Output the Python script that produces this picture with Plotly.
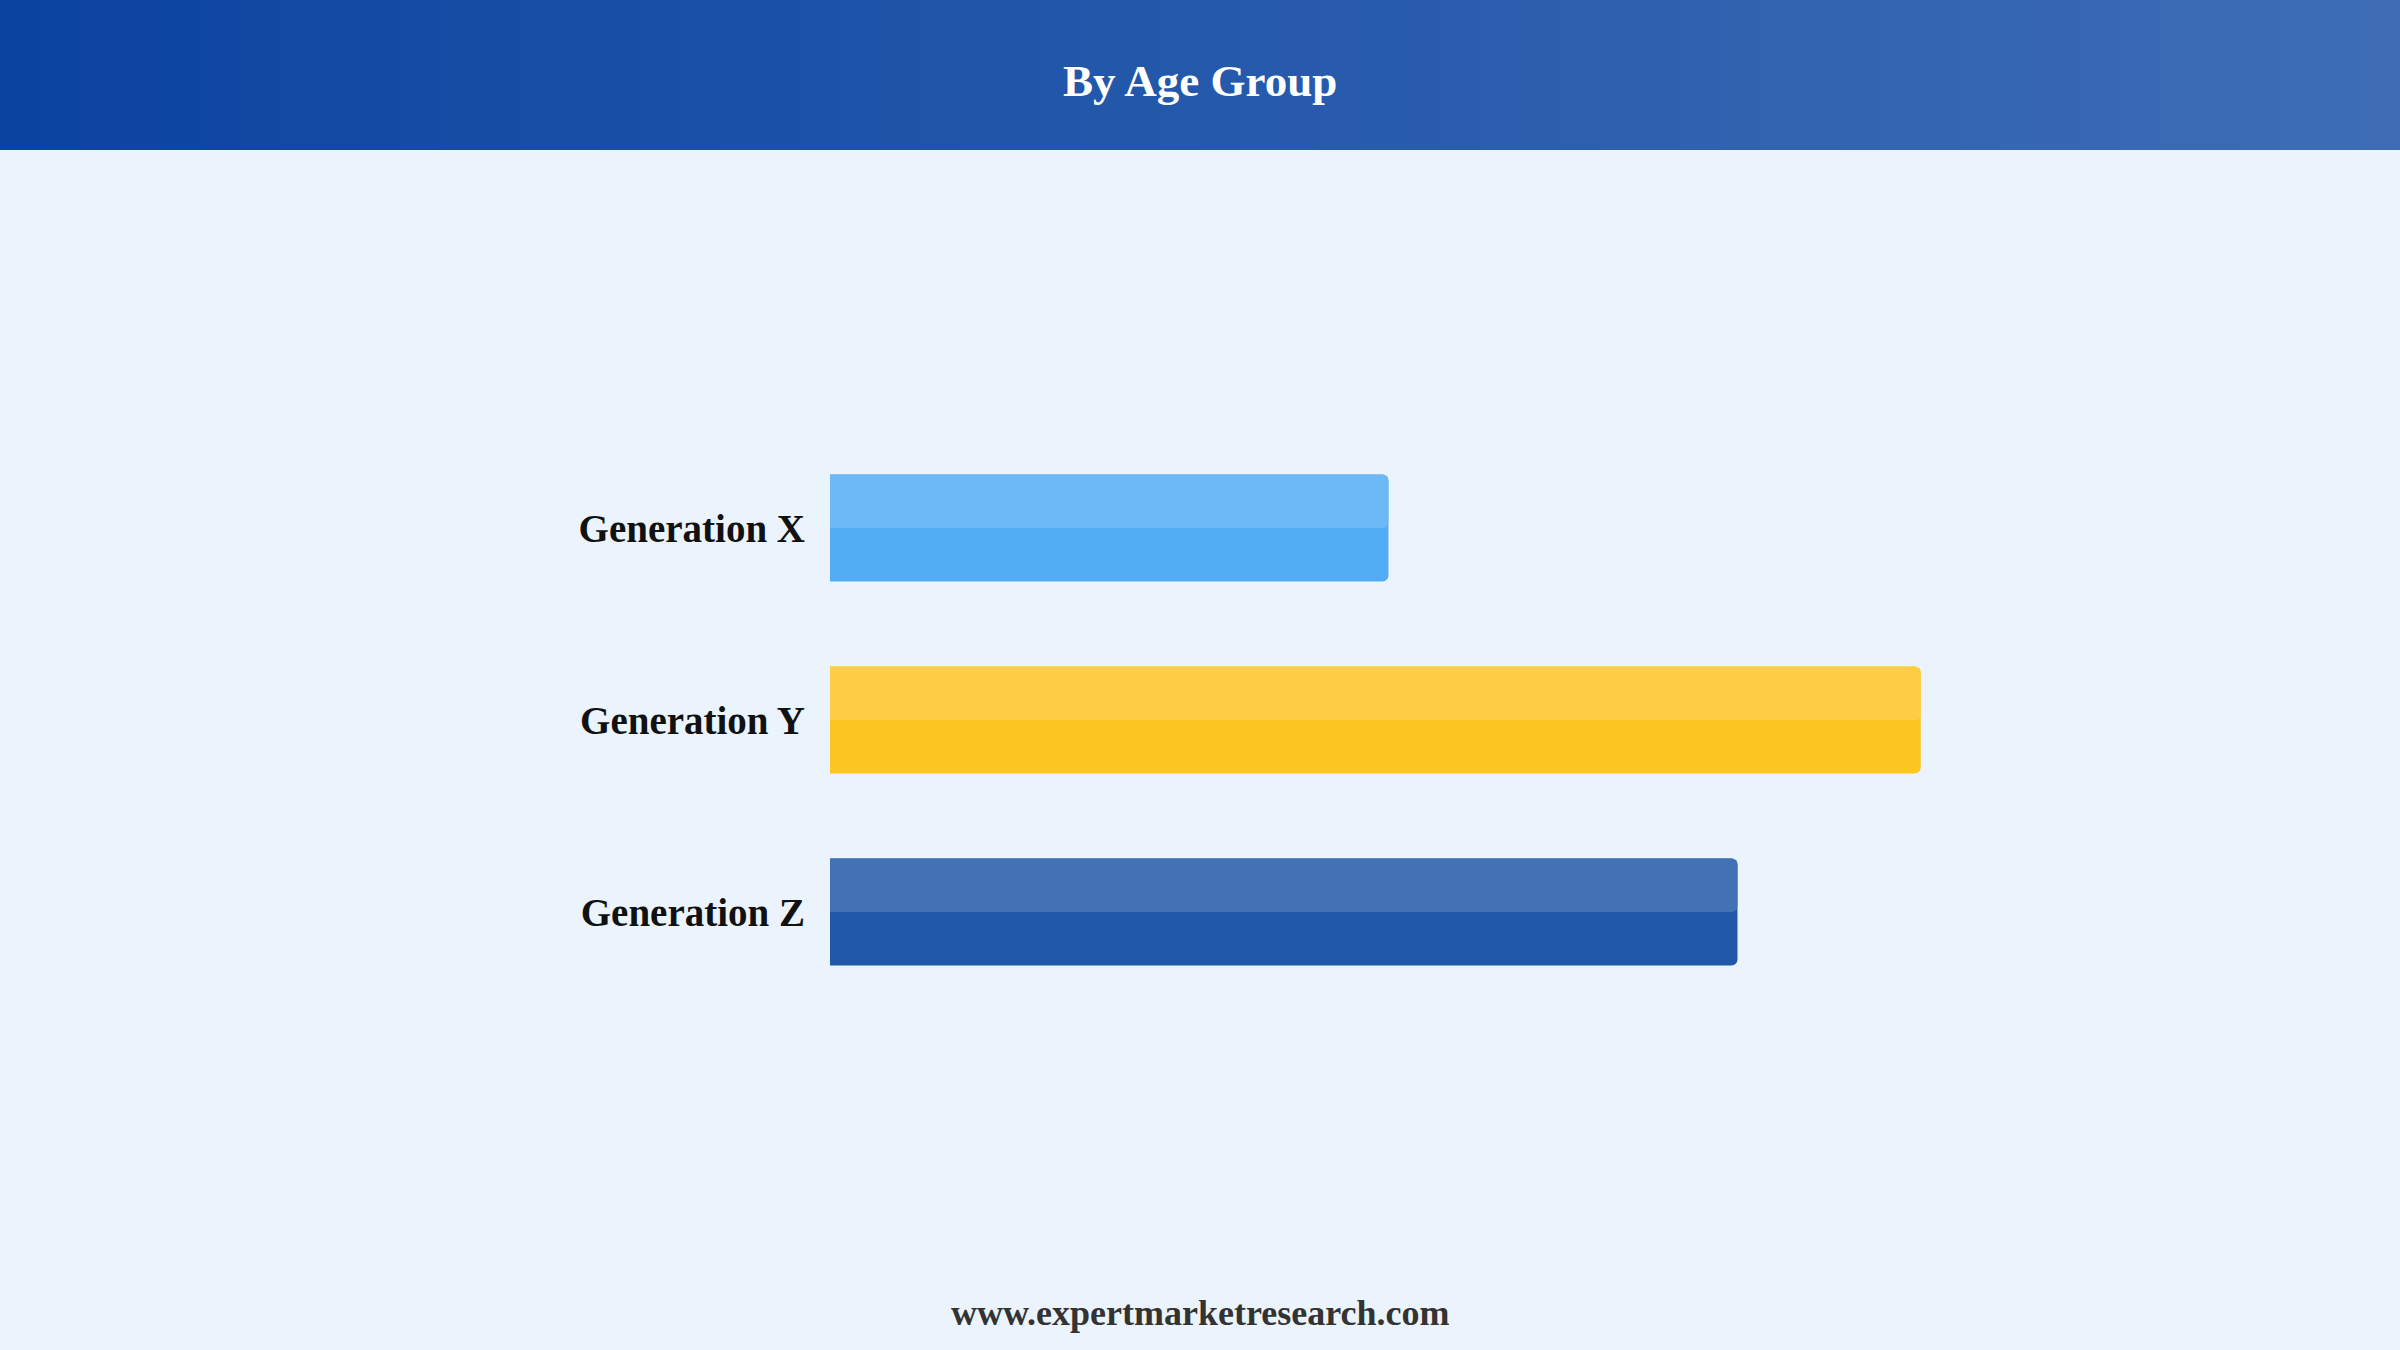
"""By Age Group - horizontal bar chart"""

import plotly.graph_objects as go

# data
categories = ["Generation X", "Generation Y", "Generation Z"]
values = [25.6, 50.0, 41.6]
colors_dark = ["#52ADF4", "#FDC620", "#2258AA"]
colors_light = ["#6DB8F6", "#FECD45", "#4371B5"]
title = "By Age Group"
footer = "www.expertmarketresearch.com"

W, H = 2400, 1350
BAR_W = 0.557
top, bottom, left, right = 432, 342, 830, 43
PW, PH = W - left - right, H - top - bottom


def px(x):
    """page x (pixels) -> paper x"""
    return (x - left) / PW


def py(y):
    """page y (pixels from top) -> paper y"""
    return (H - bottom - y) / PH


fig = go.Figure()

# full bar (darker lower half)
fig.add_trace(go.Bar(
    x=values, y=categories, orientation="h",
    width=BAR_W,
    marker=dict(color=colors_dark, line=dict(width=0), cornerradius=6),
    hoverinfo="skip", showlegend=False,
))
# lighter upper half
fig.add_trace(go.Bar(
    x=values, y=categories, orientation="h",
    width=BAR_W / 2, offset=0,
    marker=dict(color=colors_light, line=dict(width=0), cornerradius=6),
    hoverinfo="skip", showlegend=False,
))


# header gradient made of vertical bands
def mix(c1, c2, t):
    a = [int(c1[i:i + 2], 16) for i in (1, 3, 5)]
    b = [int(c2[i:i + 2], 16) for i in (1, 3, 5)]
    return "rgb(%d,%d,%d)" % tuple(round(a[k] + (b[k] - a[k]) * t) for k in range(3))


n_bands = 60
shapes = []
for i in range(n_bands):
    shapes.append(dict(
        type="rect", xref="paper", yref="paper",
        x0=px(W * i / n_bands), x1=px(W * (i + 1) / n_bands + 1),
        y0=py(150), y1=py(0),
        fillcolor=mix("#0B44A0", "#3E6DB6", i / (n_bands - 1)),
        line=dict(width=0), layer="below",
    ))

fig.update_layout(
    width=W, height=H,
    margin=dict(l=left, r=right, t=top, b=bottom),
    paper_bgcolor="#EBF3FC", plot_bgcolor="#EBF3FC",
    barmode="overlay",
    shapes=shapes,
    font=dict(family="Liberation Serif, Times New Roman, serif"),
    xaxis=dict(range=[0, 70], visible=False, fixedrange=True),
    yaxis=dict(
        categoryorder="array", categoryarray=list(reversed(categories)),
        range=[-0.5, 2.5], showgrid=False, zeroline=False, showline=False,
        ticks="", ticklabelstandoff=24,
        tickfont=dict(size=39, color="#111111",
                      family="Liberation Serif, Times New Roman, serif",
                      weight="bold"),
        fixedrange=True,
    ),
    annotations=[
        dict(text="<b>" + title + "</b>", xref="paper", yref="paper",
             x=px(W / 2), y=py(81), xanchor="center", yanchor="middle",
             showarrow=False,
             font=dict(size=45, color="#FFFFFF")),
        dict(text="<b>" + footer + "</b>", xref="paper", yref="paper",
             x=px(W / 2), y=py(1313), xanchor="center", yanchor="middle",
             showarrow=False,
             font=dict(size=36, color="#333333")),
    ],
)

fig.write_html("out.html", config={"displayModeBar": False},
               post_script="document.body.style.margin='0';")
